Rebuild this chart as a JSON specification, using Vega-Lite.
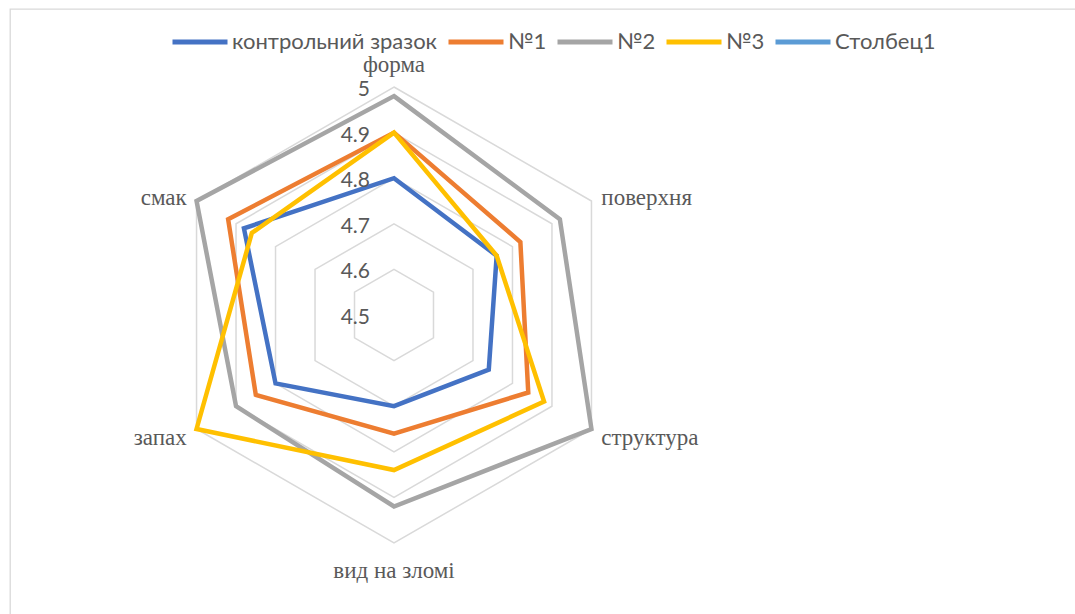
{
  "$schema": "https://vega.github.io/schema/vega-lite/v6.json",
  "autosize": {"type": "none"},
  "padding": {"left": 10, "top": 9, "right": 0, "bottom": 0},
  "width": 1080,
  "height": 620,
  "background": "white",
  "config": {
    "view": {"stroke": "#D9D9D9", "strokeWidth": 1.3},
    "text": {"color": "#595959"}
  },
  "datasets": {
    "series": [
      {"series": "контрольний зразок", "axis": "форма", "value": 4.8},
      {"series": "контрольний зразок", "axis": "поверхня", "value": 4.76},
      {"series": "контрольний зразок", "axis": "структура", "value": 4.74},
      {"series": "контрольний зразок", "axis": "вид на зломі", "value": 4.7},
      {"series": "контрольний зразок", "axis": "запах", "value": 4.8},
      {"series": "контрольний зразок", "axis": "смак", "value": 4.88},
      {"series": "№1", "axis": "форма", "value": 4.9},
      {"series": "№1", "axis": "поверхня", "value": 4.82},
      {"series": "№1", "axis": "структура", "value": 4.84},
      {"series": "№1", "axis": "вид на зломі", "value": 4.76},
      {"series": "№1", "axis": "запах", "value": 4.85},
      {"series": "№1", "axis": "смак", "value": 4.92},
      {"series": "№2", "axis": "форма", "value": 4.98},
      {"series": "№2", "axis": "поверхня", "value": 4.92},
      {"series": "№2", "axis": "структура", "value": 5.0},
      {"series": "№2", "axis": "вид на зломі", "value": 4.92},
      {"series": "№2", "axis": "запах", "value": 4.9},
      {"series": "№2", "axis": "смак", "value": 5.0},
      {"series": "№3", "axis": "форма", "value": 4.9},
      {"series": "№3", "axis": "поверхня", "value": 4.76},
      {"series": "№3", "axis": "структура", "value": 4.88},
      {"series": "№3", "axis": "вид на зломі", "value": 4.84},
      {"series": "№3", "axis": "запах", "value": 5.0},
      {"series": "№3", "axis": "смак", "value": 4.86}
    ],
    "grid": [
      {"level": 4.6, "axis": "форма"}, {"level": 4.6, "axis": "поверхня"}, {"level": 4.6, "axis": "структура"}, {"level": 4.6, "axis": "вид на зломі"}, {"level": 4.6, "axis": "запах"}, {"level": 4.6, "axis": "смак"},
      {"level": 4.7, "axis": "форма"}, {"level": 4.7, "axis": "поверхня"}, {"level": 4.7, "axis": "структура"}, {"level": 4.7, "axis": "вид на зломі"}, {"level": 4.7, "axis": "запах"}, {"level": 4.7, "axis": "смак"},
      {"level": 4.8, "axis": "форма"}, {"level": 4.8, "axis": "поверхня"}, {"level": 4.8, "axis": "структура"}, {"level": 4.8, "axis": "вид на зломі"}, {"level": 4.8, "axis": "запах"}, {"level": 4.8, "axis": "смак"},
      {"level": 4.9, "axis": "форма"}, {"level": 4.9, "axis": "поверхня"}, {"level": 4.9, "axis": "структура"}, {"level": 4.9, "axis": "вид на зломі"}, {"level": 4.9, "axis": "запах"}, {"level": 4.9, "axis": "смак"},
      {"level": 5.0, "axis": "форма"}, {"level": 5.0, "axis": "поверхня"}, {"level": 5.0, "axis": "структура"}, {"level": 5.0, "axis": "вид на зломі"}, {"level": 5.0, "axis": "запах"}, {"level": 5.0, "axis": "смак"}
    ],
    "ticks": [
      {"level": 4.5}, {"level": 4.6}, {"level": 4.7}, {"level": 4.8}, {"level": 4.9}, {"level": 5.0}
    ],
    "axes": [
      {"axis": "форма"}, {"axis": "поверхня"}, {"axis": "структура"}, {"axis": "вид на зломі"}, {"axis": "запах"}, {"axis": "смак"}
    ]
  },
  "layer": [
    {
      "data": {"name": "grid"},
      "transform": [
        {"calculate": "indexof(['форма','поверхня','структура','вид на зломі','запах','смак'], datum.axis)", "as": "idx"},
        {"calculate": "(datum.level - 4.5) * sin(datum.idx * PI / 3)", "as": "px"},
        {"calculate": "(datum.level - 4.5) * cos(datum.idx * PI / 3)", "as": "py"}
      ],
      "mark": {"type": "line", "interpolate": "linear-closed", "stroke": "#D9D9D9", "strokeWidth": 1.5},
      "encoding": {
        "x": {"field": "px", "type": "quantitative", "scale": {"domain": [-0.84211, 1.52632], "nice": false, "zero": false}, "axis": null},
        "y": {"field": "py", "type": "quantitative", "scale": {"domain": [-0.6886, 0.67105], "nice": false, "zero": false}, "axis": null},
        "detail": {"field": "level", "type": "nominal"},
        "order": {"field": "idx", "type": "quantitative"}
      }
    },
    {
      "data": {"name": "series"},
      "transform": [
        {"calculate": "indexof(['форма','поверхня','структура','вид на зломі','запах','смак'], datum.axis)", "as": "idx"},
        {"calculate": "(datum.value - 4.5) * sin(datum.idx * PI / 3)", "as": "px"},
        {"calculate": "(datum.value - 4.5) * cos(datum.idx * PI / 3)", "as": "py"}
      ],
      "mark": {"type": "line", "interpolate": "linear-closed", "strokeWidth": 4.5, "strokeJoin": "miter"},
      "encoding": {
        "x": {"field": "px", "type": "quantitative"},
        "y": {"field": "py", "type": "quantitative"},
        "order": {"field": "idx", "type": "quantitative"},
        "color": {
          "field": "series", "type": "nominal",
          "scale": {
            "domain": ["контрольний зразок", "№1", "№2", "№3", "Столбец1"],
            "range": ["#4472C4", "#ED7D31", "#A5A5A5", "#FFC000", "#5B9BD5"]
          },
          "legend": {
            "title": null,
            "orient": "none",
            "legendX": 160,
            "legendY": 3,
            "direction": "horizontal",
            "symbolType": "stroke",
            "symbolSize": 3025,
            "symbolStrokeWidth": 5,
            "labelFont": "Lato",
            "labelFontSize": 22,
            "labelColor": "#595959",
            "labelOffset": 2,
            "columnPadding": 0,
            "labelLimit": 400
          }
        }
      }
    },
    {
      "data": {"name": "ticks"},
      "transform": [
        {"calculate": "datum.level - 4.5", "as": "py"},
        {"calculate": "0", "as": "px"}
      ],
      "mark": {"type": "text", "align": "right", "baseline": "middle", "dx": -24, "dy": 3, "font": "Lato", "fontSize": 21, "color": "#595959"},
      "encoding": {
        "x": {"field": "px", "type": "quantitative"},
        "y": {"field": "py", "type": "quantitative"},
        "text": {"field": "level", "type": "quantitative", "format": ".1~f"}
      }
    },
    {
      "data": {"name": "axes"},
      "transform": [
        {"filter": "datum.axis == 'форма'"},
        {"calculate": "0", "as": "px"},
        {"calculate": "0.55", "as": "py"}
      ],
      "mark": {"type": "text", "align": "center", "baseline": "middle", "dy": 1, "font": "Liberation Serif", "fontSize": 23, "color": "#595959"},
      "encoding": {
        "x": {"field": "px", "type": "quantitative"},
        "y": {"field": "py", "type": "quantitative"},
        "text": {"field": "axis", "type": "nominal"}
      }
    },
    {
      "data": {"name": "axes"},
      "transform": [
        {"filter": "datum.axis == 'вид на зломі'"},
        {"calculate": "0", "as": "px"},
        {"calculate": "-0.55", "as": "py"}
      ],
      "mark": {"type": "text", "align": "center", "baseline": "middle", "dy": 5, "font": "Liberation Serif", "fontSize": 23, "color": "#595959"},
      "encoding": {
        "x": {"field": "px", "type": "quantitative"},
        "y": {"field": "py", "type": "quantitative"},
        "text": {"field": "axis", "type": "nominal"}
      }
    },
    {
      "data": {"name": "axes"},
      "transform": [
        {"filter": "datum.axis == 'поверхня' || datum.axis == 'структура'"},
        {"calculate": "indexof(['форма','поверхня','структура','вид на зломі','запах','смак'], datum.axis)", "as": "idx"},
        {"calculate": "0.525 * sin(datum.idx * PI / 3)", "as": "px"},
        {"calculate": "0.525 * cos(datum.idx * PI / 3)", "as": "py"}
      ],
      "mark": {"type": "text", "align": "left", "baseline": "middle", "dy": 3, "font": "Liberation Serif", "fontSize": 23, "color": "#595959"},
      "encoding": {
        "x": {"field": "px", "type": "quantitative"},
        "y": {"field": "py", "type": "quantitative"},
        "text": {"field": "axis", "type": "nominal"}
      }
    },
    {
      "data": {"name": "axes"},
      "transform": [
        {"filter": "datum.axis == 'запах' || datum.axis == 'смак'"},
        {"calculate": "indexof(['форма','поверхня','структура','вид на зломі','запах','смак'], datum.axis)", "as": "idx"},
        {"calculate": "0.525 * sin(datum.idx * PI / 3)", "as": "px"},
        {"calculate": "0.525 * cos(datum.idx * PI / 3)", "as": "py"}
      ],
      "mark": {"type": "text", "align": "right", "baseline": "middle", "dy": 3, "font": "Liberation Serif", "fontSize": 23, "color": "#595959"},
      "encoding": {
        "x": {"field": "px", "type": "quantitative"},
        "y": {"field": "py", "type": "quantitative"},
        "text": {"field": "axis", "type": "nominal"}
      }
    }
  ]
}
